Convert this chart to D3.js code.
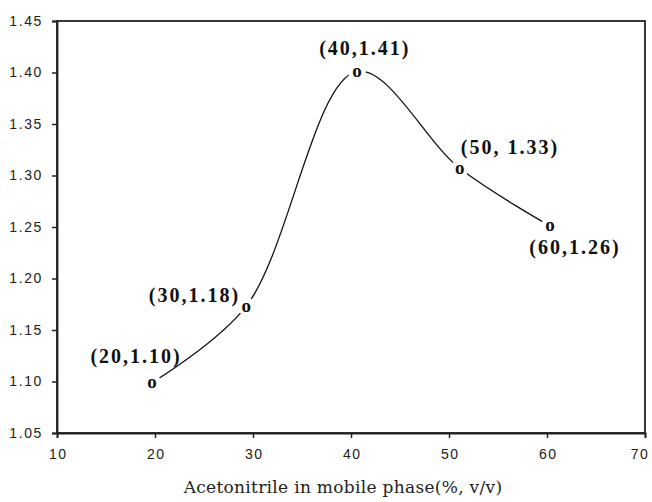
<!DOCTYPE html>
<html>
<head>
<meta charset="utf-8">
<script src="https://cdn.jsdelivr.net/npm/d3@7"></script>
<style>
  body { margin: 0; background: #fff; }
  svg { display: block; }
</style>
</head>
<body>
<div id="chart"></div>
<script>
// data
var xValues = [19.7, 29.3, 40.6, 51.1, 60.3];
var yValues = [1.099, 1.173, 1.401, 1.307, 1.251];
var pointLabels = ["(20,1.10)", "(30,1.18)", "(40,1.41)", "(50, 1.33)", "(60,1.26)"];
var xTicks = [10, 20, 30, 40, 50, 60, 70];
var yTicks = [1.05, 1.10, 1.15, 1.20, 1.25, 1.30, 1.35, 1.40, 1.45];
var xTitle = "Acetonitrile in mobile phase(%, v/v)";

var width = 652, height = 502;
var margin = { top: 21, right: 7, bottom: 69, left: 57 };

var svg = d3.select("#chart").append("svg")
  .attr("width", width)
  .attr("height", height);

var x = d3.scaleLinear().domain([10, 70]).range([margin.left, width - margin.right]);
var y = d3.scaleLinear().domain([1.05, 1.45]).range([height - margin.bottom, margin.top]);

var points = xValues.map(function (d, i) {
  return { x: d, y: yValues[i], label: pointLabels[i] };
});

// frame
svg.append("rect")
  .attr("x", x(10)).attr("y", y(1.45))
  .attr("width", x(70) - x(10)).attr("height", y(1.05) - y(1.45))
  .attr("fill", "none").attr("stroke", "#222").attr("stroke-width", 1.8);

// axes
var xAxis = svg.append("g")
  .attr("transform", "translate(0," + y(1.05) + ")")
  .call(d3.axisBottom(x).tickValues(xTicks).tickSize(5).tickPadding(8).tickFormat(d3.format("d")));
var yAxis = svg.append("g")
  .attr("transform", "translate(" + x(10) + ",0)")
  .call(d3.axisLeft(y).tickValues(yTicks).tickSize(5).tickPadding(9).tickFormat(d3.format(".2f")));

[xAxis, yAxis].forEach(function (g) {
  g.select(".domain").attr("stroke", "#222").attr("stroke-width", 1.8);
  g.selectAll(".tick line").attr("stroke", "#222").attr("stroke-width", 1.5);
  g.selectAll(".tick text")
    .attr("fill", "#222")
    .style("font-family", "'Liberation Sans', Arial, sans-serif")
    .style("font-size", "14px")
    .style("letter-spacing", "1.6px");
});
xAxis.selectAll(".tick text").attr("dy", "0.9em").attr("dx", "0.8px");
// the last x label sits at the page edge, keep it inside
xAxis.selectAll(".tick").filter(function (d) { return d === 70; })
  .select("text").attr("text-anchor", "end").attr("dx", "4px");

// smooth curve
var line = d3.line()
  .x(function (d) { return x(d.x); })
  .y(function (d) { return y(d.y); })
  .curve(d3.curveCatmullRom.alpha(0.5));

svg.append("path")
  .datum(points)
  .attr("d", line)
  .attr("fill", "none")
  .attr("stroke", "#111")
  .attr("stroke-width", 1.3);

// gaps round the markers
svg.selectAll("circle.gap")
  .data(points)
  .enter()
  .append("circle")
  .attr("class", "gap")
  .attr("cx", function (d) { return x(d.x); })
  .attr("cy", function (d) { return y(d.y); })
  .attr("r", 9)
  .attr("fill", "#fff");

// "o" markers
svg.selectAll("text.marker")
  .data(points)
  .enter()
  .append("text")
  .attr("class", "marker")
  .attr("x", function (d) { return x(d.x); })
  .attr("y", function (d) { return y(d.y) + 5.5; })
  .attr("text-anchor", "middle")
  .style("font-family", "'Liberation Serif', 'Times New Roman', serif")
  .style("font-weight", "bold")
  .style("font-size", "19px")
  .attr("fill", "#111")
  .text("o");

// point labels, offsets relative to each marker
var labelDx = [-16, -6, 8, 1, 25];
var labelDy = [-20, -4, -16, -14, 28];
var labelAnchor = ["middle", "end", "middle", "start", "middle"];

svg.selectAll("text.plabel")
  .data(points)
  .enter()
  .append("text")
  .attr("class", "plabel")
  .attr("x", function (d, i) { return x(d.x) + labelDx[i]; })
  .attr("y", function (d, i) { return y(d.y) + labelDy[i]; })
  .attr("text-anchor", function (d, i) { return labelAnchor[i]; })
  .style("font-family", "'Liberation Serif', 'Times New Roman', serif")
  .style("font-weight", "bold")
  .style("font-size", "20px")
  .style("letter-spacing", "2px")
  .attr("fill", "#111")
  .text(function (d) { return d.label; });

// x title
svg.append("text")
  .attr("x", 343)
  .attr("y", 493)
  .attr("text-anchor", "middle")
  .style("font-family", "'DejaVu Serif', 'Liberation Serif', serif")
  .style("font-size", "17px")
  .style("letter-spacing", "0.3px")
  .attr("fill", "#222")
  .text(xTitle);
</script>
</body>
</html>
